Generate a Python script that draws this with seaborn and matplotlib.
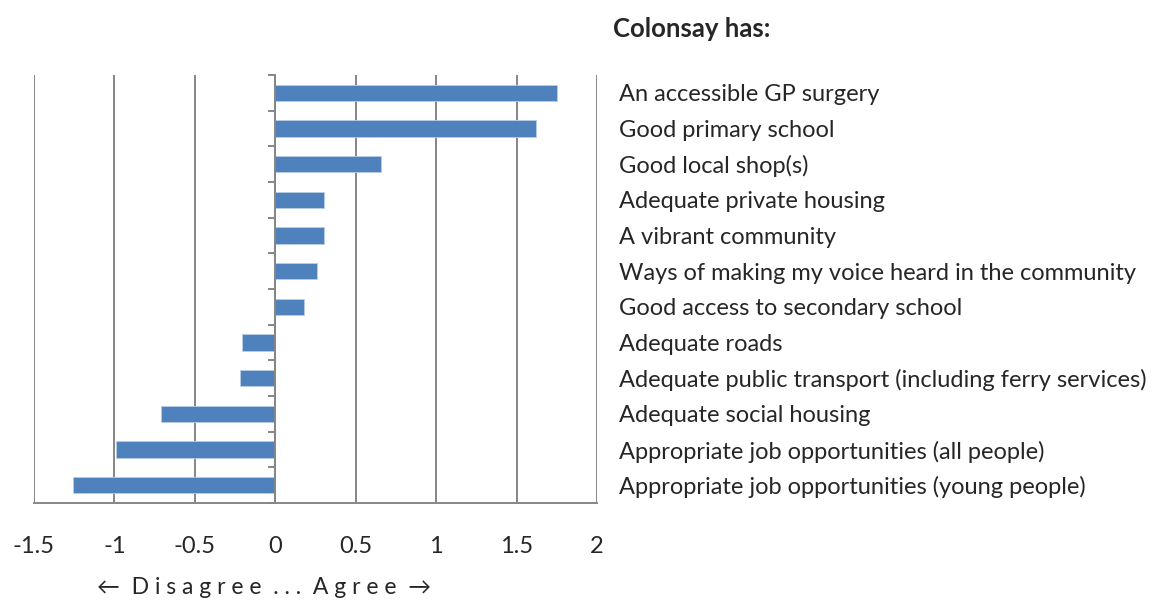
import numpy as np
import pandas as pd
import matplotlib
matplotlib.use("Agg")
import matplotlib.pyplot as plt
import seaborn as sns

# values (mean agreement score)
categories = [
    "An accessible GP surgery",
    "Good primary school",
    "Good local shop(s)",
    "Adequate private housing",
    "A vibrant community",
    "Ways of making my voice heard in the community",
    "Good access to secondary school",
    "Adequate roads",
    "Adequate public transport (including ferry services)",
    "Adequate social housing",
    "Appropriate job opportunities (all people)",
    "Appropriate job opportunities (young people)",
]
scores = [1.75, 1.62, 0.66, 0.30, 0.30, 0.26, 0.18, -0.205, -0.22, -0.71, -0.99, -1.26]
x_ticks = [-1.5, -1, -0.5, 0, 0.5, 1, 1.5, 2]

df = pd.DataFrame({"item": categories, "score": scores})

sns.set_style("white")
plt.rcParams["font.family"] = ["Lato", "DejaVu Sans"]
plt.rcParams["axes.unicode_minus"] = False

GRID = "#868686"
BAR = "#4F81BD"

fig = plt.figure(figsize=(11.72, 6.01), dpi=100)
ax = fig.add_axes([34 / 1172, 1 - 503 / 601, (597 - 34) / 1172, (503 - 75) / 601])

sns.barplot(data=df, x="score", y="item", orient="h", color=BAR, width=0.45,
            edgecolor="#B9CDE5", linewidth=0.6, saturation=1, ax=ax)

ax.set_xlim(-1.5, 2)
ax.set_ylim(len(categories) - 0.5, -0.5)
ax.set_xticks(x_ticks)
ax.set_xticklabels([f"{v:g}" for v in x_ticks])
ax.grid(axis="x", color=GRID, linewidth=1.4)
ax.set_axisbelow(True)

for s in ["top", "right"]:
    ax.spines[s].set_visible(False)
ax.spines["left"].set_position(("data", 0))
for s in ["left", "bottom"]:
    ax.spines[s].set_color(GRID)
    ax.spines[s].set_linewidth(1.4)

# category labels sit to the right of the plot area
ax.set_yticks(np.arange(-0.5, len(categories), 1), minor=True)
ax.tick_params(axis="y", which="major", left=False, right=False,
               labelleft=False, labelright=True, pad=12, labelsize=17)
ax.tick_params(axis="y", which="minor", left=True, length=5, width=1.4,
               color=GRID, direction="out")
ax.tick_params(axis="x", length=5, width=1.4, color=GRID, direction="out",
               pad=19, labelsize=17)

ax.set_ylabel("")
ax.set_xlabel("\u2190  D i s a g r e e  . . .  A g r e e  \u2192", fontsize=16.5)
ax.xaxis.set_label_coords((264 - 34) / (597 - 34), -(588 - 503) / (503 - 75), transform=ax.transAxes)
ax.xaxis.label.set_verticalalignment("center")

fig.text(613 / 1172, 1 - 29 / 601, "Colonsay has:", fontsize=18.5, fontweight="bold",
         ha="left", va="center")

fig.savefig("out.png", dpi=100)
